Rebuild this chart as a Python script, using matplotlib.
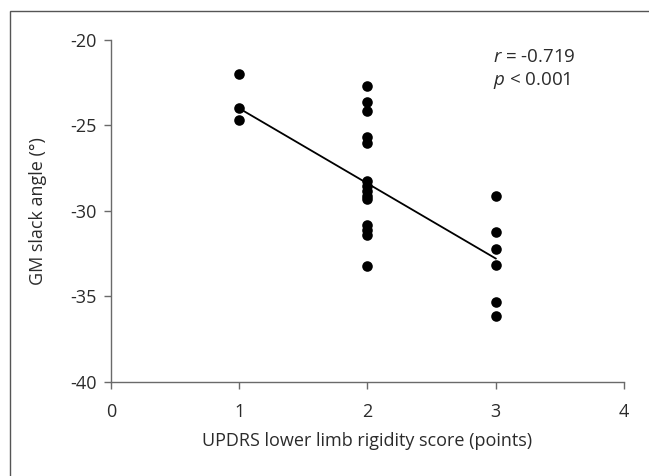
import numpy as np
import matplotlib
matplotlib.use("Agg")
import matplotlib.pyplot as plt
from matplotlib.patches import Rectangle

# Data
score_1 = [-22.0, -24.0, -24.65]
score_2 = [-22.7, -23.65, -24.15, -25.7, -26.0, -28.25, -28.55, -28.85,
           -29.1, -29.3, -30.8, -31.1, -31.4, -33.2]
score_3 = [-29.15, -31.25, -32.25, -33.15, -35.35, -36.15]

fit_x = [1, 3]
fit_y = [-24.0, -32.78]

x_ticks = [0, 1, 2, 3, 4]
y_ticks = [-40, -35, -30, -25, -20]

text_color = "#2b2b2b"
axis_color = "#6a6a6a"

plt.rcParams["font.family"] = ["Open Sans", "DejaVu Sans"]
plt.rcParams["mathtext.fontset"] = "custom"
plt.rcParams["mathtext.it"] = "Open Sans:italic"
plt.rcParams["mathtext.rm"] = "Open Sans"

fig = plt.figure(figsize=(6.49, 4.76), dpi=100)
ax = fig.add_axes([0.171, 0.1975, 0.7905, 0.7185])

xs = [1] * len(score_1) + [2] * len(score_2) + [3] * len(score_3)
ys = score_1 + score_2 + score_3
ax.scatter(xs, ys, s=58, color="black", zorder=3, linewidths=0)
ax.plot(fit_x, fit_y, color="black", linewidth=1.3, zorder=2)

ax.set_xlim(0, 4)
ax.set_ylim(-40, -20)
ax.set_xticks(x_ticks)
ax.set_yticks(y_ticks)
ax.set_xticklabels([str(t) for t in x_ticks])
ax.set_yticklabels([str(t) for t in y_ticks])

for side in ["top", "right"]:
    ax.spines[side].set_visible(False)
for side in ["left", "bottom"]:
    ax.spines[side].set_color(axis_color)
    ax.spines[side].set_linewidth(1.0)

ax.tick_params(axis="both", direction="out", length=5, width=1.0,
               color=axis_color, labelcolor=text_color, labelsize=13, pad=5)
ax.tick_params(axis="x", pad=10)

ax.set_xlabel("UPDRS lower limb rigidity score (points)", fontsize=13,
              color=text_color, labelpad=8)
ax.set_ylabel("GM slack angle (°)", fontsize=13, color=text_color,
              labelpad=17)

ax.text(2.98, -21.0, r"$r$ = -0.719", fontsize=13.5, color=text_color,
        ha="left", va="center")
ax.text(2.98, -22.35, r"$p$ < 0.001", fontsize=13.5, color=text_color,
        ha="left", va="center")

# outer frame (only top and left edges show in the reference crop)
fig.patches.append(Rectangle((9.5 / 649, -0.1), 1.2, 1.1 - 11.5 / 476,
                             transform=fig.transFigure, fill=False,
                             edgecolor="#555555", linewidth=1.0))

fig.savefig("out.png", dpi=100)
